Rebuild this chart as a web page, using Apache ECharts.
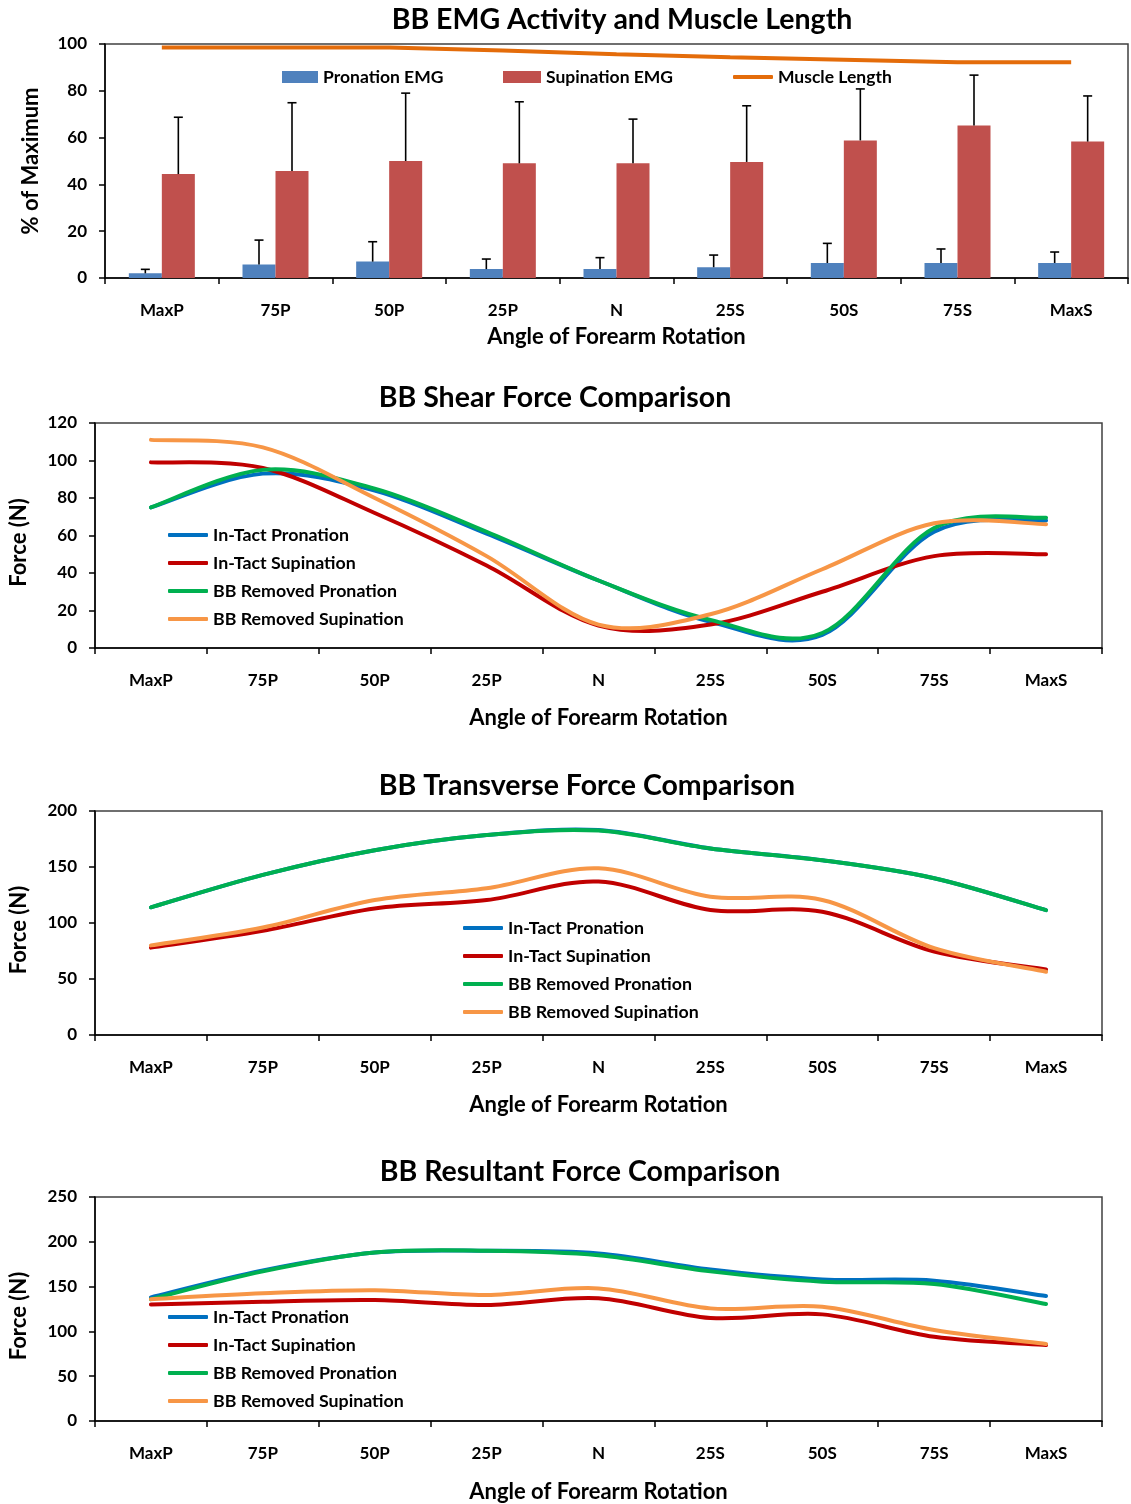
<!DOCTYPE html>
<html><head><meta charset="utf-8">
<script src="https://cdn.jsdelivr.net/npm/echarts@6/dist/echarts.min.js"></script>
<style>html,body{margin:0;padding:0;background:#fff}#c{width:1131px;height:1504px}</style>
</head><body><div id="c"></div>
<script>
// ---- data ----
const categories = ['MaxP','75P','50P','25P','N','25S','50S','75S','MaxS'];

// Chart 1: EMG activity (% of maximum) with +SD error bars, and muscle length
const pronationEMG   = [2.0, 5.8, 7.0, 3.8, 3.8, 4.6, 6.4, 6.4, 6.4];
const pronationSD    = [1.7, 10.4, 8.5, 4.3, 4.9, 5.2, 8.4, 6.0, 4.7];
const supinationEMG  = [44.4, 45.7, 50.0, 49.0, 49.0, 49.6, 58.8, 65.2, 58.3];
const supinationSD   = [24.3, 29.2, 29.0, 26.3, 18.9, 24.0, 22.0, 21.5, 19.5];
const muscleLength   = [98.5, 98.5, 98.5, 97.2, 95.6, 94.3, 93.3, 92.2, 92.2];

// Chart 2: shear force (N)
const shearIntactPron  = [75, 93, 84, 61, 36, 14, 7, 62, 68];
const shearIntactSup   = [99, 96, 72, 44, 12, 12.5, 30, 49, 50];
const shearRemovedPron = [75, 95, 85, 62, 36, 15, 8, 64, 69.5];
const shearRemovedSup  = [111, 107, 80, 49, 12.5, 18, 42, 66.5, 66];

// Chart 3: transverse force (N)
const transIntactPron  = [114, 143, 165, 178.5, 183, 166.5, 156, 140, 111.5];
const transIntactSup   = [78, 93, 113, 120.5, 137, 111.6, 110, 74.5, 58.5];
const transRemovedPron = [114, 143, 165, 178.5, 182.5, 166.5, 156, 140, 111.5];
const transRemovedSup  = [80, 96, 120.5, 131, 148.8, 123.5, 120.5, 77.5, 56.5];

// Chart 4: resultant force (N)
const resIntactPron  = [138, 168, 188, 190, 187, 169, 158, 156.6, 139.5];
const resIntactSup   = [130, 133, 135, 129.5, 137, 115, 119, 94, 84.8];
const resRemovedPron = [136, 167, 188, 190, 185, 167, 155.5, 153, 130.6];
const resRemovedSup  = [136, 142.5, 146, 140.6, 148, 125.7, 127.6, 101.6, 86];

const lineNames = ['In-Tact Pronation','In-Tact Supination','BB Removed Pronation','BB Removed Supination'];
const lineColors = ['#0070C0','#C00000','#00B050','#F79646'];

// ---- options ----
const FONT = 'Lato';
const chart = echarts.init(document.getElementById('c'), null, {renderer:'canvas'});

const grids = [
  {left:105, top:44, width:1023, height:234},
  {left:94, top:423, width:1008, height:225},
  {left:94, top:811, width:1008, height:224},
  {left:94, top:1197, width:1008, height:224}
];
const yRanges = [[0,100,20],[0,120,20],[0,200,50],[0,250,50]];
const yNames = ['% of Maximum','Force (N)','Force (N)','Force (N)'];
const yNameGaps = [63, 65, 65, 65];
const yNamePad = [[0,0,0,0],[0,14,0,0],[0,14,0,0],[0,14,0,0]];
const xNameGaps = [48, 59, 59, 60];
const xLabelMargins = [24, 24, 24, 24];

const xAxes = grids.map((g,i)=>({
  type:'category', gridIndex:i, data:categories, boundaryGap:true,
  name:'Angle of Forearm Rotation', nameLocation:'middle', nameGap:xNameGaps[i],
  nameTextStyle:{fontFamily:FONT, fontWeight:'bold', fontSize:22, color:'#000'},
  axisLine:{show:true, lineStyle:{color:'#000', width:1.5}},
  axisTick:{show:true, length:6, alignWithLabel:false, lineStyle:{color:'#000', width:1.5}},
  axisLabel:{fontFamily:FONT, fontWeight:'bold', fontSize:17, color:'#000', margin:xLabelMargins[i], interval:0},
  splitLine:{show:false}
}));
const yAxes = grids.map((g,i)=>({
  type:'value', gridIndex:i, min:yRanges[i][0], max:yRanges[i][1], interval:yRanges[i][2],
  name:yNames[i], nameLocation:'middle', nameGap:yNameGaps[i],
  nameTextStyle:{fontFamily:FONT, fontWeight:'bold', fontSize:22, color:'#000', padding:yNamePad[i]},
  axisLine:{show:true, lineStyle:{color:'#000', width:1.5}},
  axisTick:{show:true, length:6, lineStyle:{color:'#000', width:1.5}},
  axisLabel:{fontFamily:FONT, fontWeight:'bold', fontSize:17, color:'#000', margin:18},
  splitLine:{show:false}
}));

function errRender(sign){
  return function(params, api){
    const idx = api.value(0);
    const base = api.coord([idx, api.value(1)]);
    const top = api.coord([idx, api.value(2)]);
    const x = base[0] + sign*16.5;
    const st = {stroke:'#000', lineWidth:1.6};
    return {type:'group', children:[
      {type:'line', shape:{x1:x, y1:base[1], x2:x, y2:top[1]}, style:st},
      {type:'line', shape:{x1:x-4.5, y1:top[1], x2:x+4.5, y2:top[1]}, style:st}
    ]};
  };
}

// Excel-like smoothed line (Catmull-Rom through the data points, via the axis scales)
function smoothRender(values, color){
  return function(params, api){
    if (params.dataIndex !== 0) return null;
    const pts = values.map((v,i)=>api.coord([i, v]));
    let d = 'M' + pts[0][0] + ',' + pts[0][1];
    for (let i=0; i<pts.length-1; i++){
      const p0 = pts[i-1] || pts[i], p1 = pts[i], p2 = pts[i+1], p3 = pts[i+2] || pts[i+1];
      const c1x = p1[0] + (p2[0]-p0[0])/6, c1y = p1[1] + (p2[1]-p0[1])/6;
      const c2x = p2[0] - (p3[0]-p1[0])/6, c2y = p2[1] - (p3[1]-p1[1])/6;
      d += ' C' + c1x + ',' + c1y + ' ' + c2x + ',' + c2y + ' ' + p2[0] + ',' + p2[1];
    }
    return {type:'path', shape:{pathData:d},
      style:{fill:null, stroke:color, lineWidth:4, lineCap:'round', lineJoin:'round'}};
  };
}

const series = [
  {name:'Pronation EMG', type:'bar', xAxisIndex:0, yAxisIndex:0, data:pronationEMG,
   barWidth:33, barGap:'0%', itemStyle:{color:'#4F81BD'}},
  {name:'Supination EMG', type:'bar', xAxisIndex:0, yAxisIndex:0, data:supinationEMG,
   barWidth:33, barGap:'0%', itemStyle:{color:'#C0504D'}},
  {type:'custom', xAxisIndex:0, yAxisIndex:0, renderItem:errRender(-1), z:5,
   data:pronationEMG.map((v,i)=>[i, v, v+pronationSD[i]]), encode:{x:0, y:[1,2]}, silent:true},
  {type:'custom', xAxisIndex:0, yAxisIndex:0, renderItem:errRender(1), z:5,
   data:supinationEMG.map((v,i)=>[i, v, v+supinationSD[i]]), encode:{x:0, y:[1,2]}, silent:true},
  {name:'Muscle Length', type:'line', xAxisIndex:0, yAxisIndex:0, data:muscleLength,
   symbol:'none', z:6, lineStyle:{color:'#E46C0A', width:4}, itemStyle:{color:'#E46C0A'}}
];

const lineSets = [
  [shearIntactPron, shearIntactSup, shearRemovedPron, shearRemovedSup],
  [transIntactPron, transIntactSup, transRemovedPron, transRemovedSup],
  [resIntactPron, resIntactSup, resRemovedPron, resRemovedSup]
];
lineSets.forEach((set, k)=>{
  set.forEach((d, j)=>{
    series.push({name:lineNames[j], type:'custom', xAxisIndex:k+1, yAxisIndex:k+1,
      data:d.map((v,i)=>[i, v]), encode:{x:0, y:1}, z:3+j, silent:true,
      renderItem:smoothRender(d, lineColors[j]), itemStyle:{color:lineColors[j]}});
  });
});

const titleStyle = {fontFamily:FONT, fontWeight:'bold', fontSize:28.5, color:'#000'};
const titles = [
  {text:'BB EMG Activity and Muscle Length', left:622, top:5},
  {text:'BB Shear Force Comparison', left:555, top:383},
  {text:'BB Transverse Force Comparison', left:587, top:771},
  {text:'BB Resultant Force Comparison', left:580, top:1157}
].map(t=>Object.assign(t, {textAlign:'center', padding:0, textStyle:titleStyle}));

const legText = {fontFamily:FONT, fontWeight:'bold', fontSize:17.8, color:'#000'};
const legText1 = {fontFamily:FONT, fontWeight:'bold', fontSize:17.5, color:'#000'};
const legends = [
  {data:['Pronation EMG'], left:282, top:68, itemWidth:36, itemHeight:12, icon:'rect', textStyle:legText1},
  {data:['Supination EMG'], left:503, top:68, itemWidth:38, itemHeight:12, icon:'rect', textStyle:legText1},
  {data:[{name:'Muscle Length', icon:'roundRect'}], left:733, top:68, itemWidth:40, itemHeight:4, textStyle:legText1},
  {data:lineNames.map(n=>({name:n, icon:'roundRect'})), left:168, top:526, orient:'vertical', itemWidth:40, itemHeight:4, itemGap:10},
  {data:lineNames.map(n=>({name:n, icon:'roundRect'})), left:463, top:919, orient:'vertical', itemWidth:40, itemHeight:4, itemGap:10},
  {data:lineNames.map(n=>({name:n, icon:'roundRect'})), left:168, top:1308, orient:'vertical', itemWidth:40, itemHeight:4, itemGap:10}
].map(l=>Object.assign({padding:0, itemGap:10, textStyle:legText, selectedMode:false}, l));

chart.setOption({
  animation:false,
  backgroundColor:'#fff',
  title:titles,
  legend:legends,
  grid:grids.map(g=>Object.assign({}, g, {show:true, borderColor:'#404040', borderWidth:1.5, backgroundColor:'transparent', containLabel:false})),
  xAxis:xAxes,
  yAxis:yAxes,
  series:series
});
</script>
</body></html>
